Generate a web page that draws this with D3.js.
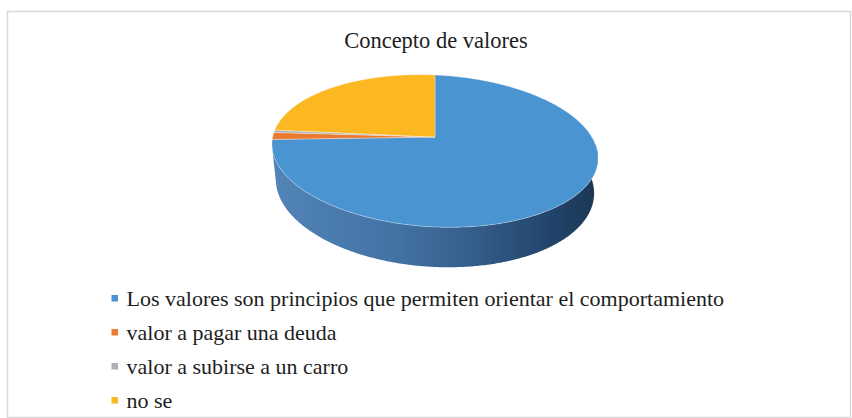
<!DOCTYPE html>
<html>
<head>
<meta charset="utf-8">
<script src="https://cdn.jsdelivr.net/npm/d3@7"></script>
</head>
<body style="margin:0">
<svg id="chart" width="852" height="418"></svg>
<script>
// ---- data ----
const title = "Concepto de valores";
const categories = [
  "Los valores son principios que permiten orientar el comportamiento",
  "valor a pagar una deuda",
  "valor a subirse a un carro",
  "no se"
];
const values = [73, 1.5, 0.5, 25];
const colors = ["#4b94d2", "#ea7a30", "#b0b0b2", "#fbb820"];

const svg = d3.select("#chart");

// layers: texts created first (in their own group), graphics below
const gShapes = svg.append("g");
const gText = svg.append("g");

function addText(str, x, y, size, anchor) {
  return gText.append("text")
    .attr("x", x).attr("y", y)
    .style("font-family", "Tinos, \"Times New Roman\", \"Liberation Serif\", serif")
    .style("font-size", size + "px")
    .attr("text-anchor", anchor)
    .attr("fill", "#1e1e1e")
    .text(str);
}

addText(title, 436, 48, 22.5, "middle");
const rowY = d3.scalePoint().domain(d3.range(categories.length)).range([306, 408]);
categories.forEach((c, i) => addText(c, 126.5, rowY(i), 22, "start"));

// frame
gShapes.append("rect")
  .attr("x", 7.5).attr("y", 11.5)
  .attr("width", 843).attr("height", 406)
  .attr("fill", "none").attr("stroke", "#d9d9d9").attr("stroke-width", 1.5);

// ---- 3D perspective pie ----
const cx = 435, cy = 137;
const phi = Math.asin(0.458);
const sn = Math.sin(phi), cs = Math.cos(phi);
const Dist = 4.83, Foc = 774, depthH = 0.251, shear = 0.043;

function proj(X, Y, Z) {
  const yup = Y * sn + Z * cs;
  const dep = Dist + Y * cs - Z * sn;
  const sx = cx + Foc * X / dep;
  const sy = cy - Foc * yup / dep + shear * (sx - cx);
  return [sx, sy];
}
function rim(theta, Z) { return proj(Math.sin(theta), Math.cos(theta), Z); }

const pie = d3.pie().sort(null).value(d => d)(values);
const line = d3.line();
function samples(a0, a1) {
  const n = Math.max(2, Math.ceil((a1 - a0) / 0.01));
  return d3.range(n + 1).map(i => a0 + (a1 - a0) * i / n);
}

const defs = svg.append("defs");
const grad = defs.append("linearGradient")
  .attr("id", "sideGrad").attr("gradientUnits", "userSpaceOnUse")
  .attr("x1", 272).attr("y1", 0).attr("x2", 600).attr("y2", 0);
[[0, "#5284b8"], [0.35, "#4474a6"], [0.6, "#355f8b"], [0.85, "#22446a"], [1, "#1b3653"]]
  .forEach(([o, c]) => grad.append("stop").attr("offset", o).attr("stop-color", c));

const frontA = Math.PI / 2;
const frontB = 2 * Math.PI - Math.acos(-1 / (Dist * cs));
pie.forEach((d, i) => {
  const a0 = Math.max(d.startAngle, frontA), a1 = Math.min(d.endAngle, frontB);
  if (a1 <= a0) return;
  const ts = samples(a0, a1);
  const pts = ts.map(t => rim(t, 0)).concat(ts.slice().reverse().map(t => rim(t, -depthH)));
  gShapes.append("path")
    .attr("d", line(pts) + "Z")
    .attr("fill", i === 0 ? "url(#sideGrad)" : d3.color(colors[i]).darker(0.8));
});

pie.forEach((d, i) => {
  const ts = samples(d.startAngle, d.endAngle);
  const pts = [proj(0, 0, 0)].concat(ts.map(t => rim(t, 0)));
  gShapes.append("path")
    .attr("d", line(pts) + "Z")
    .attr("fill", colors[i])
    .attr("stroke", "rgba(255,255,255,0.45)")
    .attr("stroke-width", 0.7)
    .attr("stroke-linejoin", "round");
});

// legend markers
categories.forEach((c, i) => {
  gShapes.append("rect")
    .attr("x", 111.5).attr("y", rowY(i) - 11)
    .attr("width", 6.5).attr("height", 6.5)
    .attr("fill", colors[i]);
});
</script>
</body>
</html>
